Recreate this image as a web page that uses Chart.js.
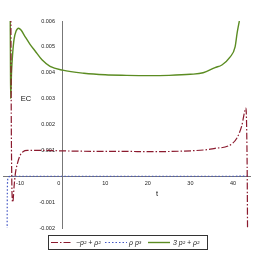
<!DOCTYPE html>
<html>
<head>
<meta charset="utf-8">
<script src="https://cdn.jsdelivr.net/npm/chart.js@4"></script>
<style>
  html, body { margin: 0; padding: 0; background: #fff; }
  #wrap { width: 254px; height: 254px; }
</style>
</head>
<body>
<div id="wrap"><canvas id="myChart" width="254" height="254"></canvas></div>
<script>
// series: t values and EC values
var redT   = [-12.15, -12.05, -11.95, -11.85, -11.7, -11.4, -11.1, -10.6, -10.0, -9.3, -8.3, -5, 0, 10, 15, 20, 28, 34, 35.8, 38.9, 40.9, 42.05, 43.06, 43.2, 43.35, 43.45];
var redY   = [0.0062, 0.002, 0.0, -0.0008, -0.001, -0.0004, 0.0001, 0.0005, 0.0008, 0.00095, 0.001, 0.001, 0.00098, 0.00096, 0.00096, 0.00095, 0.00097, 0.00103, 0.00108, 0.00117, 0.00147, 0.00194, 0.00263, 0.002, 0.0, -0.003];

var blueT  = [-13.05, -13.0, -12.95, -12.8, -12, -10, 0, 10, 20, 30, 40, 43.6];
var blueY  = [-0.003, -0.001, -0.0003, -0.00005, 0, 0, 0, 0, 0, 0, 0, 0.00001];

var greenT = [-12.3, -12.25, -12.2, -12.0, -11.75, -11.4, -10.95, -10.35, -9.77, -8.83, -7.65, -6.5, -4.85, -2.95, 0, 5, 10, 15, 20, 25, 30, 33, 35.8, 37.4, 39.3, 40.5, 41.0, 41.5];
var greenY = [0.0061, 0.0045, 0.0030, 0.0040, 0.0047, 0.0053, 0.0056, 0.00572, 0.00565, 0.0054, 0.0051, 0.00485, 0.0045, 0.00425, 0.0041, 0.00398, 0.00392, 0.0039, 0.00389, 0.0039, 0.00394, 0.004, 0.0042, 0.0043, 0.0046, 0.005, 0.00556, 0.006];

var xTicks = [-10, 0, 10, 20, 30, 40];
var yTicks = [-0.002, -0.001, 0, 0.001, 0.002, 0.003, 0.004, 0.005, 0.006];

var seriesNames = ['\u2212p\u00b2 + \u03c1\u00b2', '\u03c1 p\u00b3', '3 p\u00b2 + \u03c1\u00b2'];
var colors = ['#8b1a2e', '#4356c4', '#5b8c22'];
var dashes = [[7, 2, 1.5, 2], [1.5, 2], []];

function pts(ts, ys) {
  return ts.map(function (t, i) { return { x: t, y: ys[i] }; });
}

/* axis labels + boxed legend */
var extras = {
  id: 'extras',
  afterDraw: function (chart) {
    var ctx = chart.ctx;
    ctx.save();
    ctx.fillStyle = '#111';
    ctx.font = '7.5px "Liberation Sans"';
    ctx.textBaseline = 'middle';
    ctx.textAlign = 'center';
    ctx.fillText('EC', 26, 99);
    ctx.fillText('t', 157, 194);

    // legend
    ctx.strokeStyle = '#333';
    ctx.lineWidth = 1;
    ctx.strokeRect(48.5, 235.5, 159, 14);
    var items = [[51, 72, 76], [105, 127, 129], [148, 170, 173]];
    ctx.font = 'italic 7px "Liberation Sans"';
    ctx.textAlign = 'left';
    items.forEach(function (it, i) {
      ctx.strokeStyle = colors[i];
      ctx.lineWidth = i == 2 ? 1.4 : 1.2;
      ctx.setLineDash(dashes[i]);
      ctx.beginPath();
      ctx.moveTo(it[0], 242.5);
      ctx.lineTo(it[1], 242.5);
      ctx.stroke();
      ctx.setLineDash([]);
      ctx.fillStyle = '#222';
      ctx.fillText(seriesNames[i], it[2], 243);
    });
    ctx.restore();
  }
};

const ctx = document.getElementById('myChart');

var myChart = new Chart(ctx, {
  type: 'line',
  data: {
    datasets: [
      { label: seriesNames[0], data: pts(redT, redY), borderColor: colors[0], borderWidth: 1.2, borderDash: dashes[0] },
      { label: seriesNames[1], data: pts(blueT, blueY), borderColor: colors[1], borderWidth: 1.2, borderDash: dashes[1] },
      { label: seriesNames[2], data: pts(greenT, greenY), borderColor: colors[2], borderWidth: 1.4 }
    ]
  },
  options: {
    responsive: false,
    animation: false,
    layout: { padding: { left: 3, right: 4, top: 21, bottom: 26 } },
    elements: {
      point: { radius: 0 },
      line: { cubicInterpolationMode: 'monotone', fill: false }
    },
    plugins: {
      legend: { display: false },
      tooltip: { enabled: false }
    },
    scales: {
      x: {
        type: 'linear',
        min: -14,
        max: 44,
        position: { y: 0 },
        grid: { display: false, drawTicks: false },
        border: { color: '#777', width: 1 },
        afterBuildTicks: function (scale) {
          scale.ticks = xTicks.map(function (v) { return { value: v }; });
        },
        ticks: {
          padding: 4,
          color: '#222',
          font: { family: 'Liberation Sans', size: 5.5 },
          maxRotation: 0,
          // the 0 label sits a little left of the y axis
          callback: function (v) { return v === 0 ? '0     ' : String(v); }
        }
      },
      y: {
        type: 'linear',
        min: -0.002,
        max: 0.006,
        position: { x: 0 },
        grid: { display: false, drawTicks: false },
        border: { color: '#777', width: 1 },
        afterBuildTicks: function (scale) {
          scale.ticks = yTicks.map(function (v) { return { value: v }; });
        },
        ticks: {
          color: '#222',
          font: { family: 'Liberation Sans', size: 5.5 },
          // trailing spaces keep the labels off the axis line
          callback: function (v) { return Math.abs(v) < 1e-9 ? '' : v.toFixed(3) + '     '; }
        }
      }
    }
  },
  plugins: [extras]
});
</script>
</body>
</html>
